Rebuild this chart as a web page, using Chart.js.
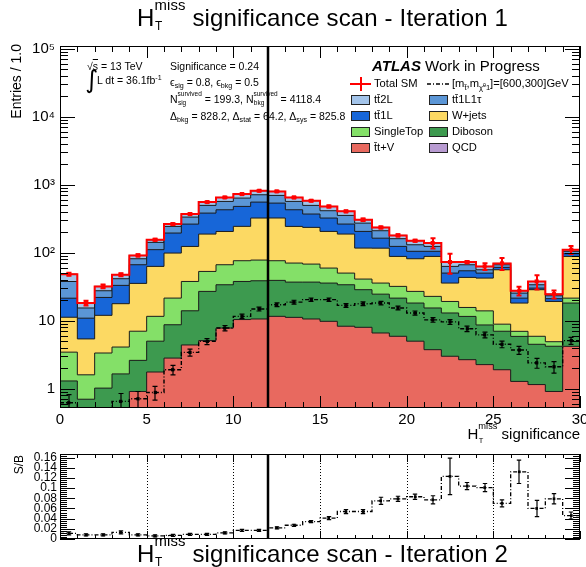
<!DOCTYPE html>
<html>
<head>
<meta charset="utf-8">
<title>HT miss significance scan</title>
<script src="https://cdn.jsdelivr.net/npm/chart.js@4.4.1/dist/chart.umd.min.js"></script>
<style>
  html, body { margin: 0; padding: 0; background: #fff; }
  #page { position: relative; width: 586px; height: 567px; overflow: hidden; background: #fff;
          font-family: "Liberation Sans", Arial, Helvetica, sans-serif; color: #000; }
  .abs { position: absolute; white-space: nowrap; line-height: 1; }
  .title { font-size: 24px; letter-spacing: 0.15px; }
  .ss { display: inline-block; position: relative; font-size: 0.62em; }
  .ss .u { position: relative; top: -1.1em; }
  .ss .d { position: absolute; left: 0.05em; top: 0.38em; }
  .big .ss .d { font-size: 0.8em; top: 0.63em; }
  .sb { font-size: 0.68em; position: relative; top: 0.35em; }
  .sp { font-size: 0.68em; position: relative; top: -0.6em; }
  .note { font-size: 10.5px; }
  .leg { font-size: 11.2px; }
  .box { position: absolute; width: 17px; height: 8px; border: 1px solid #222; }
  .rot { transform-origin: left top; transform: rotate(-90deg); text-align: right; }
  canvas { position: absolute; left: 0; }
</style>
</head>
<body>
<div id="page">
  <canvas id="mainChart" width="586" height="440" style="top:0"></canvas>
  <canvas id="ratioChart" width="586" height="127" style="top:440px"></canvas>

  <div class="abs title big" style="left:137px;top:6px;">H<span class="ss"><span class="u">miss</span><span class="d">T</span></span> significance scan - Iteration 1</div>
  <div class="abs title big" style="left:137px;top:542px;">H<span class="ss"><span class="u">miss</span><span class="d">T</span></span> significance scan - Iteration 2</div>

  <div class="abs rot" style="left:9px;top:244px;width:200px;font-size:14px;">Entries / 1.0</div>
  <div class="abs rot" style="left:13px;top:555px;width:100px;font-size:12px;">S/B</div>
  <div class="abs big" style="right:6px;top:426px;font-size:15px;">H<span class="ss"><span class="u">miss</span><span class="d">T</span></span> significance</div>

  <div class="abs note" style="left:87px;top:61px;">√<span style="text-decoration:overline">s</span> = 13 TeV</div>
  <div class="abs" style="left:85px;top:67px;font-size:25px;font-family:'DejaVu Sans';">∫</div>
  <div class="abs note" style="left:97px;top:75px;">L dt = 36.1fb<span class="sp">-1</span></div>
  <div class="abs note" style="left:170px;top:61px;">Significance = 0.24</div>
  <div class="abs note" style="left:170px;top:77px;">ϵ<span class="sb">sig</span> = 0.8, ϵ<span class="sb">bkg</span> = 0.5</div>
  <div class="abs note" style="left:170px;top:94px;">N<span class="ss"><span class="u">survived</span><span class="d">sig</span></span> = 199.3, N<span class="ss"><span class="u">survived</span><span class="d">bkg</span></span> = 4118.4</div>
  <div class="abs note" style="left:170px;top:111px;">Δ<span class="sb">bkg</span> = 828.2, Δ<span class="sb">stat</span> = 64.2, Δ<span class="sb">sys</span> = 825.8</div>

  <div class="abs" style="left:372px;top:58px;font-size:15px;"><b><i>ATLAS</i></b> Work in Progress</div>
  <div id="legend"></div>
</div>

<script>
// ---- data ----
const xEdges = [0,1,2,3,4,5,6,7,8,9,10,11,12,13,14,15,16,17,18,19,20,21,22,23,24,25,26,27,28,29,30];

// stacked backgrounds (events per bin), bottom of stack first
const qcd      = [0,0,0,0,0,0,0,0,0,0,0,0,0,0,0,0,0,0,0,0,0,0,0,0,0,0,0,0,0,0];
const ttV      = [0.3,0.2,0.35,0.45,0.91,1.76,2.82,4.4,5.1,7.8,10.4,10.6,11.6,11.2,10.6,9.8,8.3,8.0,6.6,5.9,5.0,3.75,3.0,2.67,2.26,1.9,1.28,1.15,0.91,4.2];
const diboson  = [1.0,0.5,0.67,1.2,1.7,3.24,5.9,9.6,21.9,26,27.4,28.1,27.6,25.8,26.4,26,25.5,20.6,18,15.6,13.2,11.65,10,8.9,6.4,5.1,4.6,3.35,3.3,14];
const singleTop= [2.15,0.9,2.33,2.45,4.4,6.6,12.8,23.8,26.1,32.8,38.5,39.3,37.1,33.5,31.1,23.7,16.4,12.4,11.2,10.5,8.8,7.4,6.2,4.1,5.3,1.9,1.1,1.4,0.7,3.3];
const wjets    = [7.8,3.8,8.65,13.7,28.4,51.4,77.4,86,135,139,168,246,248,173.5,168,146.5,138,76,81,56.3,54.6,65.5,16.6,27.7,28.4,47.3,11.2,22.7,14.3,66.8];
const tt1L     = [10.2,5.5,10.0,15.3,31.2,48,96,140,195,223,236,232,213,185,135,118,76,89,47,35.7,23.4,16.7,14.4,10.9,7.8,4.7,3.3,1.6,1.9,8.4];
const tt1L1tau = [16.3,4.5,5.6,8.4,15,31,49,71,114,140,157,157,160,140,126,91,90,67,47,37,26,19,12.8,12.3,6.0,5.7,4.0,3.6,2.2,8.3];
const tt2L     = [10.7,2.8,4.4,6.0,9.8,13,20,36,59,82,92,103,101,82,85,65,52,33,25,19,19,15,9.9,6.3,6.8,3.1,2.1,4.0,1.3,6];
const totalErr = [2.5,1.5,2,2.5,3.5,5,7,9,12,14,15,18,18,15,15,16,13,14,8,7,5,24,24,3,7,14,4,9,3.3,15];

// signal [m_stop, m_chi] = [600,300] GeV
const signal    = [0.62,0.15,0.26,0.65,0.71,0.88,1.9,3.42,4.96,7.8,11.6,14.9,17.2,18.8,20.4,20.4,16.8,17.8,18.2,15.4,13.0,10.3,9.6,7.6,6.2,4.5,3.7,2.4,2.1,5.1];
const signalErr = [0.2,0.1,0.15,0.2,0.2,0.2,0.3,0.4,0.5,0.7,0.9,1.0,1.1,1.2,1.2,1.2,1.1,1.1,1.1,1.0,0.9,0.8,0.8,0.7,0.6,0.5,0.5,0.4,0.4,0.6];

// lower panel S/B
const sOverB    = [0.011,0.008,0.008,0.013,0.008,0.006,0.007,0.009,0.009,0.012,0.017,0.017,0.022,0.027,0.034,0.041,0.054,0.054,0.075,0.079,0.083,0.077,0.123,0.104,0.101,0.070,0.132,0.060,0.079,0.046];
const sOverBErr = [0.003,0.002,0.002,0.003,0.002,0.002,0.002,0.002,0.002,0.002,0.002,0.002,0.002,0.002,0.002,0.003,0.004,0.004,0.007,0.005,0.005,0.008,0.036,0.007,0.008,0.007,0.023,0.016,0.010,0.007];

const cutValue = 12;
const xTickValues = [0,5,10,15,20,25,30];
const yTickValues = [1,10,100,1000,10000,100000];
const yTickLabels = ['1','10','10²','10³','10⁴','10⁵'];
const rTickValues = [0,0.02,0.04,0.06,0.08,0.1,0.12,0.14,0.16];
const rTickLabels = ['0','0.02','0.04','0.06','0.08','0.1','0.12','0.14','0.16'];

const FONT = '"Liberation Sans", Arial, sans-serif';

const binLow = xEdges.slice(0, -1);
const binCenter = binLow.map(x => x + 0.5);

// stack, bottom to top (legend order is top to bottom)
const stackOrder = [
  { label: 'QCD',       values: qcd,       color: '#b89bd1', draw: false },
  { label: 't\u0304t+V', values: ttV,       color: '#e8695f', draw: true },
  { label: 'Diboson',   values: diboson,   color: '#3d9a4f', draw: true },
  { label: 'SingleTop', values: singleTop, color: '#84e068', draw: true },
  { label: 'W+jets',    values: wjets,     color: '#fcd963', draw: true },
  { label: 'tt\u03041L', values: tt1L,      color: '#1766d8', draw: true },
  { label: 'tt\u03041L1τ', values: tt1L1tau, color: '#5b96d6', draw: true },
  { label: 'tt\u03042L', values: tt2L,      color: '#a3c4ea', draw: true }
];

let running = binLow.map(() => 0);
const stackSets = stackOrder.map(s => {
  running = running.map((r, i) => r + s.values[i]);
  return Object.assign({}, s, { cum: running.slice() });
});
const totalSM = running.slice();

function stepPoints(vals) {
  const pts = binLow.map((x, i) => ({ x: x, y: vals[i] }));
  pts.push({ x: xEdges[xEdges.length - 1], y: vals[vals.length - 1] });
  return pts;
}
function centerPoints(vals) {
  return binCenter.map((x, i) => ({ x: x, y: vals[i] }));
}

// ROOT-like frame: inner ticks on all sides, error bars, cut line
const hepStyle = {
  id: 'hepStyle',
  afterDatasetsDraw(chart, args, o) {
    const { ctx, chartArea: a } = chart;
    const xs = chart.scales.x, ys = chart.scales.y;
    ctx.save();
    ctx.beginPath();
    ctx.rect(a.left, a.top, a.right - a.left, a.bottom - a.top);
    ctx.clip();
    o.errorBars.forEach(eb => {
      ctx.strokeStyle = eb.color;
      ctx.lineWidth = eb.width;
      eb.values.forEach((v, i) => {
        const px = Math.round(xs.getPixelForValue(binCenter[i]));
        const lowVal = ys.type === 'logarithmic' ? Math.max(v - eb.errors[i], 1e-3) : v - eb.errors[i];
        const top = ys.getPixelForValue(v + eb.errors[i]);
        const bot = ys.getPixelForValue(lowVal);
        ctx.beginPath();
        ctx.moveTo(px, top); ctx.lineTo(px, bot);
        ctx.moveTo(px - eb.cap, top); ctx.lineTo(px + eb.cap, top);
        ctx.moveTo(px - eb.cap, bot); ctx.lineTo(px + eb.cap, bot);
        ctx.stroke();
      });
    });
    ctx.restore();
  },
  afterDraw(chart, args, o) {
    const { ctx, chartArea: a } = chart;
    const xs = chart.scales.x, ys = chart.scales.y;
    ctx.save();
    ctx.strokeStyle = '#000';
    // dotted guides
    ctx.lineWidth = 1;
    ctx.setLineDash([1, 2]);
    o.guides.forEach(v => {
      const px = Math.round(xs.getPixelForValue(v)) + 0.5;
      ctx.beginPath(); ctx.moveTo(px, a.top); ctx.lineTo(px, a.bottom); ctx.stroke();
    });
    ctx.setLineDash([]);
    // ticks
    const tickX = (vals, len) => vals.forEach(v => {
      const px = Math.round(xs.getPixelForValue(v)) + 0.5;
      ctx.beginPath();
      ctx.moveTo(px, a.bottom); ctx.lineTo(px, a.bottom - len);
      ctx.moveTo(px, a.top); ctx.lineTo(px, a.top + len);
      ctx.stroke();
    });
    const tickY = (vals, len) => vals.forEach(v => {
      const py = Math.round(ys.getPixelForValue(v)) + 0.5;
      if (py < a.top || py > a.bottom + 1) return;
      ctx.beginPath();
      ctx.moveTo(a.left, py); ctx.lineTo(a.left + len, py);
      ctx.moveTo(a.right, py); ctx.lineTo(a.right - len, py);
      ctx.stroke();
    });
    tickX(o.xMinor, o.xMinorLen);
    tickX(o.xMajor, o.xMajorLen);
    tickY(o.yMinor, o.yMinorLen);
    tickY(o.yMajor, o.yMajorLen);
    // frame
    ctx.lineWidth = 1;
    ctx.strokeRect(a.left + 0.5, a.top + 0.5, a.right - a.left - 1, a.bottom - a.top - 1);
    // cut value
    ctx.lineWidth = 2.5;
    const cx = xs.getPixelForValue(o.cut);
    ctx.beginPath(); ctx.moveTo(cx, a.top); ctx.lineTo(cx, a.bottom); ctx.stroke();
    ctx.restore();
  }
};

// minor tick positions
const logMinor = [];
[0.1, 1, 10, 100, 1000, 10000].forEach(d => {
  for (let k = 2; k <= 9; k++) logMinor.push(d * k);
});
const ratioMinor = [];
for (let k = 0; k <= 41; k++) ratioMinor.push(k * 0.004);

const stackDatasets = stackSets.filter(s => s.draw).map(s => ({
  label: s.label,
  data: stepPoints(s.cum),
  stepped: true,
  borderColor: '#1b1b1b',
  borderWidth: 1,
  backgroundColor: s.color,
  fill: 'start',
  pointRadius: 0
}));

new Chart(document.getElementById('mainChart'), {
  type: 'line',
  data: {
    datasets: [
      { label: 'Total SM points', data: centerPoints(totalSM), showLine: false,
        pointStyle: 'rect', pointRadius: 2.9, backgroundColor: '#ff0000', borderColor: '#ff0000', borderWidth: 0 },
      { label: 'signal points', data: centerPoints(signal), showLine: false,
        pointStyle: 'rect', pointRadius: 2.3, backgroundColor: '#000', borderColor: '#000', borderWidth: 0 },
      { label: 'Total SM', data: stepPoints(totalSM), stepped: true, borderColor: '#ff0000',
        borderWidth: 2, fill: false, pointRadius: 0 },
      { label: 'signal', data: stepPoints(signal), stepped: true, borderColor: '#000',
        borderWidth: 1.4, borderDash: [4, 2, 1, 2], fill: false, pointRadius: 0 }
    ].concat(stackDatasets)
  },
  options: {
    responsive: false,
    animation: false,
    layout: { padding: { top: 46, right: 6, left: 0, bottom: 0 } },
    plugins: {
      legend: { display: false },
      tooltip: { enabled: false },
      hepStyle: {
        errorBars: [
          { values: totalSM, errors: totalErr, color: '#ff0000', width: 2, cap: 2.5 },
          { values: signal, errors: signalErr, color: '#000', width: 1.2, cap: 2.5 }
        ],
        guides: [],
        xMajor: xTickValues, xMinor: xEdges, xMajorLen: 12, xMinorLen: 6,
        yMajor: yTickValues, yMinor: logMinor, yMajorLen: 15, yMinorLen: 8,
        cut: cutValue
      }
    },
    scales: {
      x: {
        type: 'linear', min: 0, max: 30,
        grid: { display: false, drawTicks: false }, border: { display: false },
        ticks: { color: '#000', font: { family: FONT, size: 15 }, padding: 3, maxRotation: 0, autoSkip: false },
        afterBuildTicks: s => { s.ticks = xTickValues.map(v => ({ value: v })); },
        afterFit: s => { s.height = 32; s.paddingLeft = 0; s.paddingRight = 0; }
      },
      y: {
        type: 'logarithmic', min: 0.52, max: 110000,
        grid: { display: false, drawTicks: false }, border: { display: false },
        ticks: {
          color: '#000', font: { family: FONT, size: 15 }, padding: 5, autoSkip: false,
          callback: v => yTickLabels[yTickValues.indexOf(v)]
        },
        afterBuildTicks: s => { s.ticks = yTickValues.map(v => ({ value: v })); },
        afterFit: s => { s.width = 60; s.paddingTop = 0; s.paddingBottom = 0; }
      }
    }
  },
  plugins: [hepStyle]
});

new Chart(document.getElementById('ratioChart'), {
  type: 'line',
  data: {
    datasets: [
      { label: 'S/B points', data: centerPoints(sOverB), showLine: false,
        pointStyle: 'rect', pointRadius: 1.9, backgroundColor: '#000', borderColor: '#000', borderWidth: 0 },
      { label: 'S/B', data: stepPoints(sOverB), stepped: true, borderColor: '#000',
        borderWidth: 1.3, borderDash: [4, 2, 1, 2], fill: false, pointRadius: 0 }
    ]
  },
  options: {
    responsive: false,
    animation: false,
    layout: { padding: { top: 14, right: 6, left: 0, bottom: 0 } },
    plugins: {
      legend: { display: false },
      tooltip: { enabled: false },
      hepStyle: {
        errorBars: [{ values: sOverB, errors: sOverBErr, color: '#000', width: 1.2, cap: 2.2 }],
        guides: [5, 10, 15, 20, 25],
        xMajor: xTickValues, xMinor: xEdges, xMajorLen: 8, xMinorLen: 4,
        yMajor: rTickValues, yMinor: ratioMinor, yMajorLen: 15, yMinorLen: 7,
        cut: cutValue
      }
    },
    scales: {
      x: {
        type: 'linear', min: 0, max: 30,
        grid: { display: false, drawTicks: false }, border: { display: false },
        ticks: { display: false },
        afterFit: s => { s.height = 28; s.paddingLeft = 0; s.paddingRight = 0; }
      },
      y: {
        type: 'linear', min: 0, max: 0.167,
        grid: { display: false, drawTicks: false }, border: { display: false },
        ticks: {
          color: '#000', font: { family: FONT, size: 12, lineHeight: 1 }, padding: 3, autoSkip: false,
          callback: v => rTickLabels[rTickValues.indexOf(v)]
        },
        afterBuildTicks: s => { s.ticks = rTickValues.map(v => ({ value: v })); },
        afterFit: s => { s.width = 60; s.paddingTop = 0; s.paddingBottom = 0; }
      }
    }
  },
  plugins: [hepStyle]
});

// legend (two columns, ROOT style)
const legendRows = [
  [{ kind: 'total', text: 'Total SM' }, { kind: 'signal', html: '[m<span class="sb">t̃</span>,m<span class="sb">χ̃<span class="sp">0</span>1</span>]=[600,300]GeV' }],
  [{ kind: 'box', set: 'tt\u03042L' }, { kind: 'box', set: 'tt\u03041L1τ' }],
  [{ kind: 'box', set: 'tt\u03041L' }, { kind: 'box', set: 'W+jets' }],
  [{ kind: 'box', set: 'SingleTop' }, { kind: 'box', set: 'Diboson' }],
  [{ kind: 'box', set: 't\u0304t+V' }, { kind: 'box', set: 'QCD' }]
];
const legendEl = document.getElementById('legend');
const colX = [351, 429];
legendRows.forEach((row, r) => {
  const cy = 84 + r * 16;
  row.forEach((item, c) => {
    const x0 = colX[c];
    let html = '';
    if (item.kind === 'box') {
      const s = stackOrder.find(t => t.label === item.set);
      html += `<div class="box" style="left:${x0}px;top:${cy - 5}px;background:${s.color}"></div>`;
      html += `<div class="abs leg" style="left:${x0 + 23}px;top:${cy - 5.6}px;">${s.label}</div>`;
    } else if (item.kind === 'total') {
      html += `<div class="abs" style="left:${x0 - 1}px;top:${cy - 1}px;width:21px;height:2px;background:#ff0000"></div>`;
      html += `<div class="abs" style="left:${x0 + 9}px;top:${cy - 7}px;width:2px;height:14px;background:#ff0000"></div>`;
      html += `<div class="abs leg" style="left:${x0 + 23}px;top:${cy - 5.6}px;">${item.text}</div>`;
    } else {
      html += `<svg class="abs" style="left:${x0 - 2}px;top:${cy - 2}px" width="22" height="4"><line x1="0" y1="2" x2="22" y2="2" stroke="#000" stroke-width="1.4" stroke-dasharray="4 2 1 2"/></svg>`;
      html += `<div class="abs leg" style="left:${x0 + 23}px;top:${cy - 5.6}px;">${item.html}</div>`;
    }
    legendEl.insertAdjacentHTML('beforeend', html);
  });
});
</script>
</body>
</html>
